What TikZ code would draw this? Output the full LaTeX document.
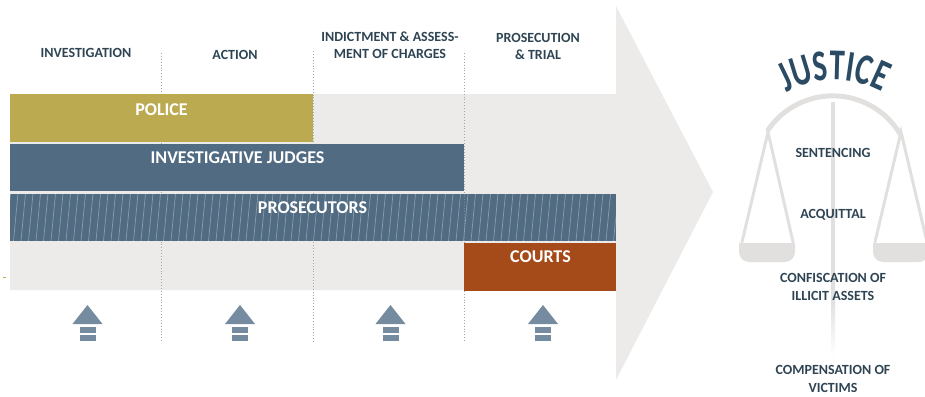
\documentclass[tikz,border=0pt]{standalone}
\usepackage{fontspec}
\setmainfont{Carlito}
\newfontfamily\justicefont[FakeStretch=0.7]{Carlito}
\usetikzlibrary{decorations.text}

\definecolor{bandgray}{RGB}{236,235,233}
\definecolor{scalegray}{RGB}{225,224,222}
\definecolor{policegold}{RGB}{187,170,80}
\definecolor{judgeblue}{RGB}{81,107,130}
\definecolor{courtrust}{RGB}{165,75,26}
\definecolor{iconblue}{RGB}{116,139,160}
\definecolor{divider}{RGB}{150,168,186}
\definecolor{inktext}{RGB}{46,68,83}
\definecolor{justiceblue}{RGB}{42,75,99}

\tikzset{
  phase/.style={font=\fontsize{14}{17}\selectfont\bfseries, text=inktext, align=center, inner sep=0pt},
  bartext/.style={font=\fontsize{18}{20}\selectfont\bfseries, text=white, inner sep=0pt},
  outcome/.style={font=\fontsize{14}{18}\selectfont\bfseries, text=inktext, align=center, inner sep=0pt},
  divline/.style={draw=divider, line width=0.9pt, dotted},
  scaleline/.style={draw=scalegray, line cap=round},
  pics/uparrow/.style={code={
    \fill[iconblue] (-15,-9.5) -- (0,9.5) -- (15,-9.5) -- cycle;
    \fill[iconblue] (-8,-12.5) rectangle (8,-18);
    \fill[iconblue] (-8,-20) rectangle (8,-26);
  }}
}

\begin{document}
\begin{tikzpicture}[x=1pt,y=1pt]
\useasboundingbox (0,0) rectangle (925,-396);

% big chevron: band plus arrow head
\fill[bandgray] (10,-94) -- (616,-94) -- (616,-6) -- (713,-192) -- (616,-380) -- (616,-290) -- (10,-290) -- cycle;

% dotted phase dividers
\foreach \x/\t in {161/53, 313/51, 464/53}
  \draw[divline] (\x,-\t) -- (\x,-342);

% actor bars
\fill[policegold] (10,-94) rectangle (313,-141.5);
\fill[judgeblue] (10,-143.5) rectangle (464,-191);
\fill[judgeblue] (10,-193.5) rectangle (615.5,-241);
\begin{scope}
  \clip (10,-193.5) rectangle (615.5,-241);
  \foreach \x in {6,13.5,...,622}
    \draw[white, opacity=0.33, line width=0.7pt] (\x,-241) -- (\x+4.5,-193.5);
\end{scope}
\draw[divline, opacity=0.5] (464,-193.5) -- (464,-241);
\fill[courtrust] (464.3,-243.3) rectangle (615.5,-290.7);

% small stray mark at left edge
\draw[policegold, line width=1pt] (3,-277) -- (6,-277);

% bar labels
\node[bartext] (police) at (161.5,-110) {POLICE};
\node[bartext] (judges) at (237.5,-158) {INVESTIGATIVE JUDGES};
\node[bartext] (prosecutors) at (312.5,-208) {PROSECUTORS};
\node[bartext] (courts) at (540.5,-256.5) {COURTS};

% phase headings
\node[phase] (investigation) at (86,-52.5) {INVESTIGATION};
\node[phase] (action) at (235,-54.5) {ACTION};
\node[phase] (indictment) at (390,-45.5) {INDICTMENT \& ASSESS-\\MENT OF CHARGES};
\node[phase] (trial) at (538,-46.5) {PROSECUTION\\\& TRIAL};

% upward arrows under each phase
\foreach \x in {87.5,240,390.5,543}
  \pic at (\x,-314.5) {uparrow};

% scales of justice
\draw[scaleline, line width=5pt] (833,-174.5) ++(145.6:78.8) arc[start angle=145.6, end angle=31.2, radius=78.5];
\fill[scalegray] (831,-102) rectangle (835,-300);
\shade[top color=scalegray, bottom color=white] (831,-300) rectangle (835,-356);
\draw[scaleline, line width=3pt] (742,-242) -- (768,-132) -- (793,-242);
\draw[scaleline, line width=3pt] (875,-242) -- (901,-132) -- (927,-242);
\fill[scalegray] (739,-243) -- (795,-243) -- (795,-252) to[out=-90,in=0] (785,-262) -- (749,-262) to[out=180,in=-90] (739,-252) -- cycle;
\fill[scalegray] (873,-243) -- (929,-243) -- (929,-252) to[out=-90,in=0] (919,-262) -- (883,-262) to[out=180,in=-90] (873,-252) -- cycle;

% arched title
\path[decorate, decoration={text along path, text align=center,
  text={|\justicefont\bfseries\fontsize{44}{44}\selectfont\color{justiceblue}|JUSTICE}}]
  (834,-180) ++(130:100) arc[start angle=130, end angle=50, radius=100];

% outcomes
\node[outcome] (sentencing) at (833,-152.5) {SENTENCING};
\node[outcome] (acquittal) at (833,-215) {ACQUITTAL};
\node[outcome] (confiscation) at (833,-287) {CONFISCATION OF\\ILLICIT ASSETS};
\node[outcome] (compensation) at (833,-379) {COMPENSATION OF\\VICTIMS};
\end{tikzpicture}
\end{document}
